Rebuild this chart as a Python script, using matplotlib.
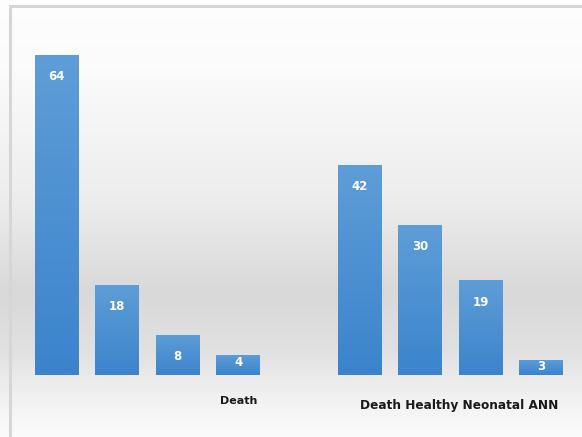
import numpy as np
import matplotlib
matplotlib.use("Agg")
import matplotlib.pyplot as plt
from matplotlib.colors import LinearSegmentedColormap
from matplotlib.patches import Rectangle

# data
slots = [0, 1, 2, 3, 5, 6, 7, 8]
values = [64, 18, 8, 4, 42, 30, 19, 3]
cat_labels = ["Death", "Death Healthy Neonatal ANN"]
cat_pos = [3, 6.64]

W, H = 582, 437
fig = plt.figure(figsize=(W / 100, H / 100), dpi=100)

# background gradient (whole figure)
bg = fig.add_axes([0, 0, 1, 1])
bg.set_axis_off()
ys = np.linspace(0, 1, 437)  # 0 = top
stops_y = [0.0, 0.15, 0.45, 0.67, 0.80, 0.92, 1.0]
stops_v = [0.995, 0.985, 0.93, 0.85, 0.88, 0.95, 0.985]
prof = np.interp(ys, stops_y, stops_v)
img = np.repeat(prof[:, None], 10, axis=1)
bg.imshow(np.dstack([img, img, img]), aspect="auto", extent=[0, 1, 0, 1], origin="upper")
bg.set_xlim(0, 1)
bg.set_ylim(0, 1)
# border (top and left visible)
bx, by = 9.5 / W, 1 - 5.5 / H
bg.add_patch(Rectangle((bx, -0.1), 1.2, by + 0.1, fill=False, edgecolor="#d6d6d6", lw=2.2))

# main axes: slot 0 center at 56.5px, spacing 60.6px; baseline y=375, 5px per unit
left_px = 56.5 - 60.6 * 0.5
right_px = left_px + 60.6 * 9
bottom_px = 375
top_px = 375 - 5 * 70
ax = fig.add_axes([left_px / W, 1 - bottom_px / H, (right_px - left_px) / W, (bottom_px - top_px) / H])
ax.set_xlim(-0.5, 8.5)
ax.set_ylim(0, 70)
ax.patch.set_alpha(0)
for s in ax.spines.values():
    s.set_visible(False)
ax.set_yticks([])
ax.set_xticks([])

cmap = LinearSegmentedColormap.from_list("b", ["#3b84cc", "#5e9dd7"])
bars = ax.bar(slots, values, width=0.72, color="#4a90d2", zorder=2)
for b, v in zip(bars, values):
    x, w, h = b.get_x(), b.get_width(), b.get_height()
    grad = np.linspace(0, 1, 100)[:, None]
    im = ax.imshow(grad, cmap=cmap, aspect="auto", extent=[x, x + w, 0, h], origin="lower", zorder=3)
    im.set_clip_path(b)
    ty = h - 4.4 if h > 6 else h - 1.4
    ax.text(x + w / 2, ty, str(v), ha="center", va="center", color="white",
            fontsize=8.5, fontweight="bold", zorder=4)
ax.set_xlim(-0.5, 8.5)
ax.set_ylim(0, 70)

ax.text(cat_pos[0], -5.2, cat_labels[0], ha="center", va="center", fontsize=8,
        fontweight="bold", color="#1a1a1a", clip_on=False)
ax.text(cat_pos[1], -6.0, cat_labels[1], ha="center", va="center", fontsize=8.7,
        fontweight="bold", color="#1a1a1a", clip_on=False)

fig.savefig("out.png", dpi=100)
